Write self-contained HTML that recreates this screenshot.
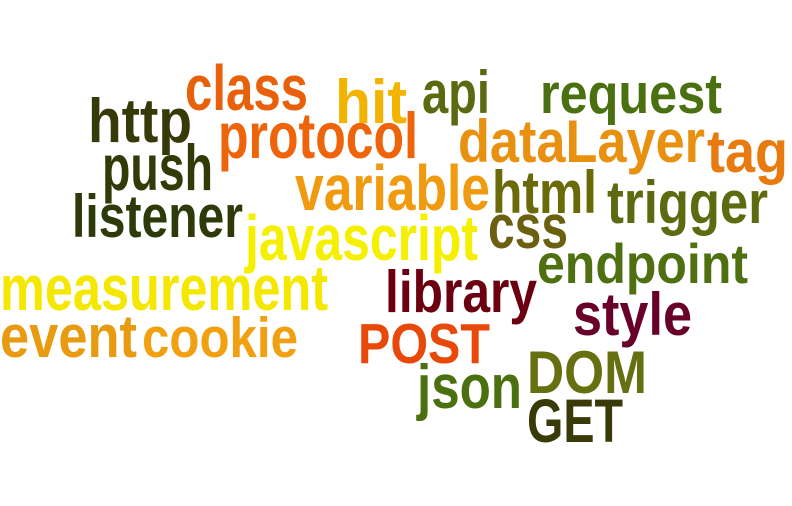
<!DOCTYPE html>
<html><head><meta charset="utf-8"><style>
html,body{margin:0;padding:0;background:#fff;width:792px;height:506px;overflow:hidden}
svg text{font-family:"Liberation Sans",sans-serif;font-weight:bold;}
</style></head><body>
<svg id="cloud" width="792" height="506" viewBox="0 0 792 506" xmlns="http://www.w3.org/2000/svg"></svg>
<script>
const words = ["class","hit","api","request","http","protocol","dataLayer","tag","push","variable","html","trigger","listener","javascript","css","endpoint","measurement","library","style","event","cookie","POST","DOM","json","GET"];
const sizes = [64,62,60,57,62,65,60,60,65,64,60,60,60,64,62,56,64,59,60,60,57,57,60,62,61];
const colors = ["#e8600a","#f2b400","#5a6a10","#4a7010","#363a08","#ee640a","#e89010","#e87a10","#323a08","#f09a10","#6a6a08","#5e6a10","#2e3a0a","#f5f000","#6a6010","#4e7010","#f5e800","#6a0010","#68002a","#e89a10","#f0a010","#e84808","#667010","#4a7010","#3a3a08"];
const xs = [185,335,422,540,88,218,458,707,102,295,492,607,72,245,488,537,0,385,573,0,142,358,527,417,527];
const ys = [110,123,113,113,142,158,162,172,190,210,213,223,237,260,248,283,310,312,335,357,357,363,393,408,442];
const ws = [123,72,68,182,104,200,247,81,111,195,105,161,171,233,80,211,328,152,119,137,156,132,120,105,96];
const svg = document.getElementById('cloud');
for (let i = 0; i < words.length; i++) {
  const t = document.createElementNS('http://www.w3.org/2000/svg','text');
  t.setAttribute('x', xs[i]);
  t.setAttribute('y', ys[i]);
  t.setAttribute('font-size', sizes[i]);
  t.setAttribute('fill', colors[i]);
  t.setAttribute('textLength', ws[i]);
  t.setAttribute('lengthAdjust', 'spacingAndGlyphs');
  
  
  t.textContent = words[i];
  svg.appendChild(t);
}
</script>
</body></html>
